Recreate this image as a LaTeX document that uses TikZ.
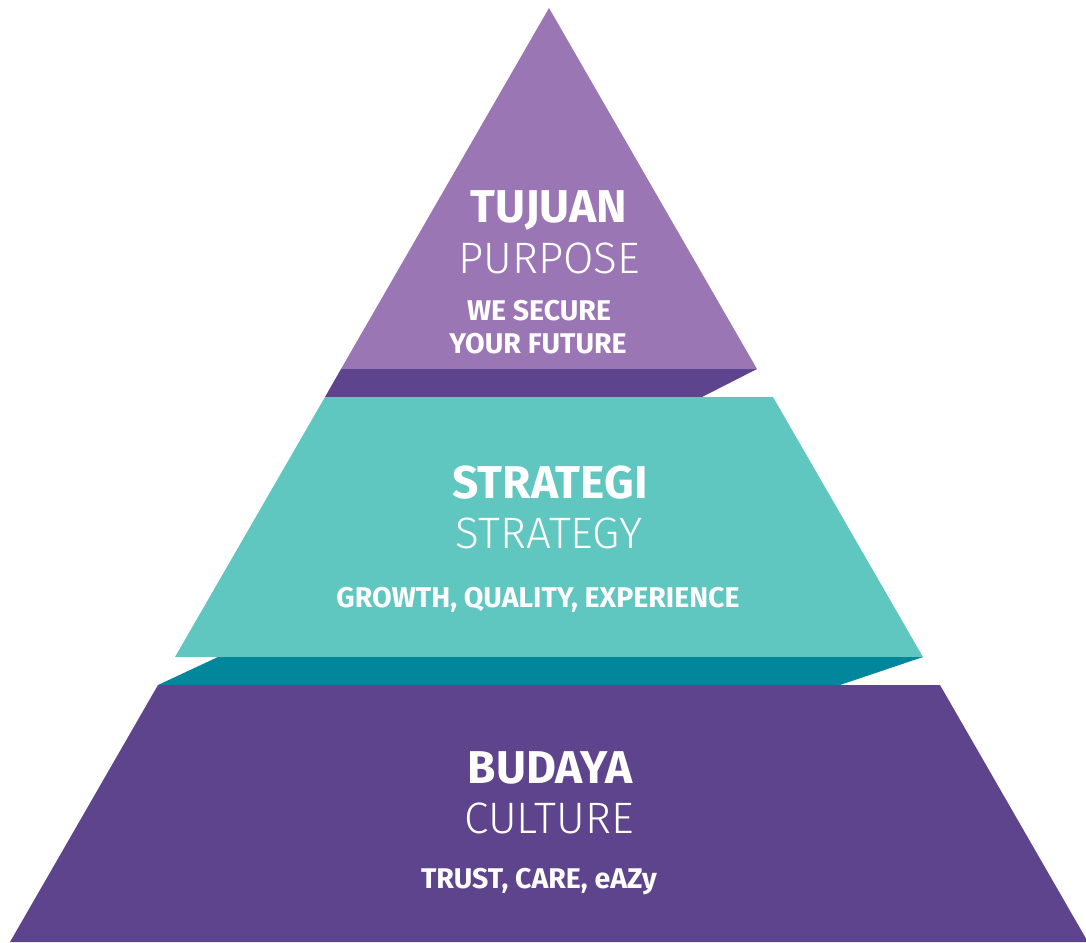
\documentclass[tikz,border=0pt]{standalone}
\usepackage{fontspec}
\setmainfont{Fira Sans}
\newfontfamily\duenn{Fira Sans Light}
\usepackage{tikz}
\definecolor{lila}{HTML}{9B76B5}
\definecolor{dunkellila}{HTML}{5E448C}
\definecolor{tuerkis}{HTML}{5FC6C0}
\definecolor{petrol}{HTML}{00879C}
\tikzset{
  Schicht/.style={fill=#1, draw=none}, % Flaechen der Pyramide
  Titel/.style={text=white, anchor=base, inner sep=0pt, font=\bfseries\fontsize{46}{48}\selectfont},
  Untertitel/.style={text=white, anchor=base, inner sep=0pt, font=\duenn\fontsize{44}{46}\selectfont},
  Motto/.style={text=white, anchor=base, inner sep=0pt, font=\bfseries\fontsize{28.5}{30}\selectfont}
}

\begin{document}
\begin{tikzpicture}[x=1pt, y=-1pt]
\useasboundingbox (0,0) rectangle (1086,942);

%Schichten
\fill[Schicht=lila] (549,8) -- (757,369) -- (341,369) -- cycle;
\fill[Schicht=dunkellila] (341,369) -- (757,369) -- (702,397) -- (325,397) -- cycle;
\fill[Schicht=tuerkis] (325,397) -- (773,397) -- (923,657) -- (175,657) -- cycle;
\fill[Schicht=petrol] (218,657) -- (923,657) -- (840,685) -- (158,685) -- cycle;
\fill[Schicht=dunkellila] (158,685) -- (940,685) -- (1088,942) -- (10,942) -- cycle;

%Beschriftung oben
\node[Titel] (tujuan) at (549,222) {TUJUAN};
\node[Untertitel] (purpose) at (549,273) {PURPOSE};
\node[Motto] (secure) at (539,320) {WE SECURE};
\node[Motto] (future) at (538,353) {YOUR FUTURE};

%Beschriftung Mitte
\node[Titel] (strategi) at (550,498) {STRATEGI};
\node[Untertitel] (strategy) at (549,548) {STRATEGY};
\node[Motto] (growth) at (538,607) {GROWTH, QUALITY, EXPERIENCE};

%Beschriftung unten
\node[Titel] (budaya) at (550,783) {BUDAYA};
\node[Untertitel] (culture) at (549,833) {CULTURE};
\node[Motto] (trust) at (539,888) {TRUST, CARE, eAZy};

\end{tikzpicture}
\end{document}
